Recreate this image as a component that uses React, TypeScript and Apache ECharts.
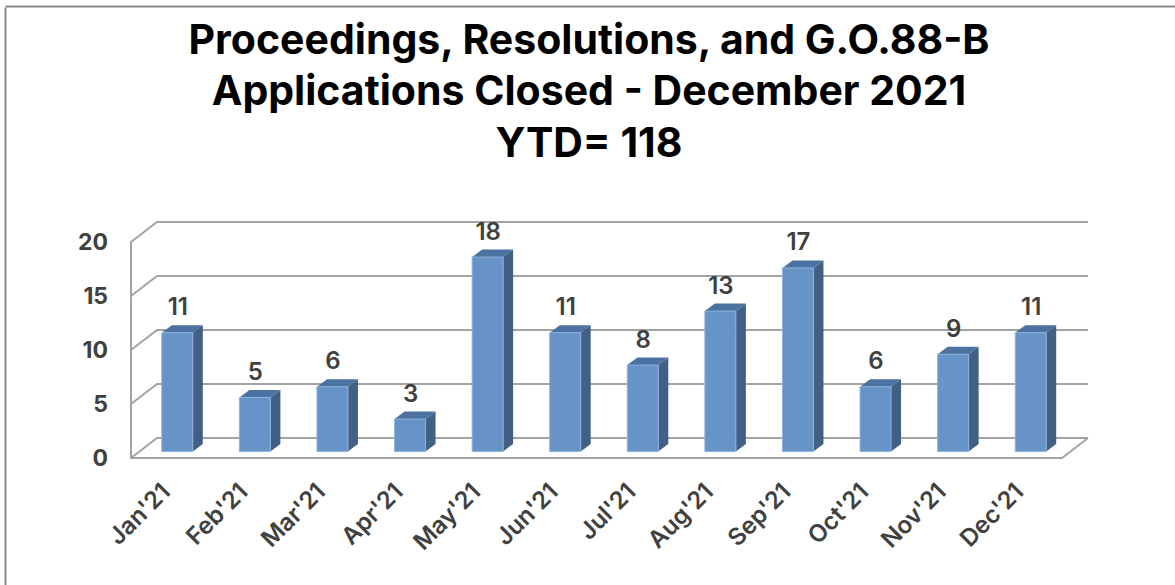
import React, { useEffect, useRef } from "react";
import * as echarts from "echarts";

const categories = ["Jan'21", "Feb'21", "Mar'21", "Apr'21", "May'21", "Jun'21", "Jul'21", "Aug'21", "Sep'21", "Oct'21", "Nov'21", "Dec'21"];
const closedCounts = [11, 5, 6, 3, 18, 11, 8, 13, 17, 6, 9, 11];
const yTicks = [0, 5, 10, 15, 20];
const titleText = "Proceedings, Resolutions, and G.O.88-B\nApplications Closed - December 2021\nYTD= 118";

const FONT = "Inter";
const WALL_DX = 26;
const WALL_DY = -20;
const BAR_SHIFT_X = 7.5;
const BAR_SHIFT_Y = -6.5;
const BAR_W = 31;
const SIDE_DX = 10;
const SIDE_DY = -7.5;
const WALL_COLOR = "#a3a3a3";

function renderWall(params: any, api: any) {
  const v = api.value(0);
  const [x0, y] = api.coord([0, v]);
  const cs = params.coordSys;
  const left = cs.x;
  const right = cs.x + cs.width;
  const line = { stroke: WALL_COLOR, lineWidth: 2, fill: "none" };
  const children: any[] = [
    {
      type: "polyline",
      shape: { points: [[left, y], [left + WALL_DX, y + WALL_DY], [right + WALL_DX, y + WALL_DY]] },
      style: line,
    },
  ];
  if (v === 0) {
    children.push({
      type: "polyline",
      shape: { points: [[left, y], [right, y], [right + WALL_DX, y + WALL_DY]] },
      style: line,
    });
  }
  return { type: "group", children };
}

function renderBar(_params: any, api: any) {
  const [cx, top0] = api.coord([api.value(0), api.value(1)]);
  const [, base0] = api.coord([api.value(0), 0]);
  const l = cx + BAR_SHIFT_X - BAR_W / 2;
  const r = l + BAR_W;
  const t = top0 + BAR_SHIFT_Y;
  const b = base0 + BAR_SHIFT_Y;
  return {
    type: "group",
    children: [
      {
        type: "polygon",
        shape: { points: [[r, t], [r + SIDE_DX, t + SIDE_DY], [r + SIDE_DX, b + SIDE_DY], [r, b]] },
        style: { fill: "#416083" },
      },
      {
        type: "polygon",
        shape: { points: [[l, t], [l + SIDE_DX, t + SIDE_DY], [r + SIDE_DX, t + SIDE_DY], [r, t]] },
        style: { fill: "#4b72a0" },
      },
      {
        type: "rect",
        shape: { x: l, y: t, width: BAR_W, height: b - t },
        style: { fill: "#6794c8", stroke: "#8fb1da", lineWidth: 1 },
      },
      {
        type: "text",
        x: cx + BAR_SHIFT_X + 0.5,
        y: t - 26,
        style: {
          text: String(api.value(1)),
          fill: "#404040",
          font: `600 24px ${FONT}`,
          align: "center",
          verticalAlign: "middle",
        },
      },
    ],
  };
}

export default function App() {
  const ref = useRef<HTMLDivElement>(null);
  useEffect(() => {
    const chart = echarts.init(ref.current!, null, { renderer: "svg" });
    chart.setOption({
      animation: false,
      backgroundColor: "#ffffff",
      title: {
        text: titleText,
        left: 584,
        top: 8,
        textAlign: "center",
        textStyle: { fontFamily: FONT, fontWeight: 700, fontSize: 41, lineHeight: 51.5, color: "#000000" },
      },
      grid: { left: 131, top: 242, width: 931, height: 216, containLabel: false },
      xAxis: {
        type: "category",
        data: categories,
        axisTick: { show: false },
        axisLine: { show: false },
        axisLabel: {
          rotate: 45,
          interval: 0,
          margin: 25,
          padding: [0, 6, 0, 0],
          fontFamily: FONT,
          fontWeight: 600,
          fontSize: 24,
          color: "#404040",
        },
      },
      yAxis: {
        type: "value",
        min: 0,
        max: 20,
        interval: 5,
        splitLine: { show: false },
        axisTick: { show: false },
        axisLine: { show: true, lineStyle: { color: WALL_COLOR, width: 2 } },
        axisLabel: {
          margin: 23,
          fontFamily: FONT,
          fontWeight: 700,
          fontSize: 23,
          color: "#404040",
        },
      },
      graphic: [
        { type: "line", shape: { x1: 4, y1: 0, x2: 4, y2: 585 }, left: 3, top: 5, style: { stroke: "#868686", lineWidth: 2 }, silent: true },
        { type: "line", shape: { x1: 0, y1: 5, x2: 1175, y2: 5 }, left: 3, top: 4, style: { stroke: "#868686", lineWidth: 2 }, silent: true },
      ],
      series: [
        {
          type: "custom",
          renderItem: renderWall,
          data: yTicks.map((t) => [t]),
          encode: { y: 0 },
          clip: false,
          silent: true,
          z: 1,
        },
        {
          type: "custom",
          renderItem: renderBar,
          data: categories.map((_, i) => [i, closedCounts[i]]),
          encode: { x: 0, y: 1 },
          clip: false,
          silent: true,
          z: 2,
        },
      ],
    });
    return () => chart.dispose();
  }, []);
  return <div ref={ref} style={{ position: "fixed", left: 0, top: 0, width: 1175, height: 585 }} />;
}
